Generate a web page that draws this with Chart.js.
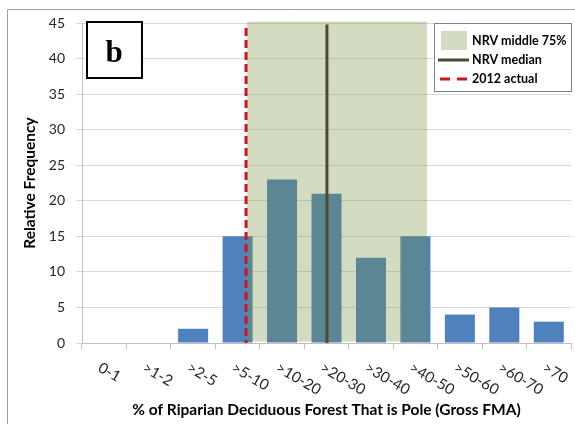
<!DOCTYPE html>
<html>
<head>
<meta charset="utf-8">
<script src="https://cdn.jsdelivr.net/npm/chart.js@4"></script>
<style>
  html, body { margin: 0; padding: 0; background: #fff; }
  canvas { display: block; }
</style>
</head>
<body>
<canvas id="chart" width="575" height="424"></canvas>
<script>
// ─── DATA ─────────────────────────────────────────────────────────────
const categories = ['0-1', '>1-2', '>2-5', '>5-10', '>10-20', '>20-30', '>30-40', '>40-50', '>50-60', '>60-70', '>70'];
const frequency = [0, 0, 2, 15, 23, 21, 12, 15, 4, 5, 3];
const yTicks = [0, 5, 10, 15, 20, 25, 30, 35, 40, 45];

// reference marks, x in category-index units (3 = centre of ">5-10"), y in frequency
const nrvMiddleX = [3.21, 7.26];
const nrvMiddleY = [0.2, 45.2];
const nrvMedianX = [5.01];
const nrvMedianY = [0, 44.8];
const actual2012X = [3.19];
const actual2012Y = [0, 44.3];

const legendLabels = ['NRV middle 75%', 'NRV median', '2012 actual'];
const panelLabel = 'b';
const xTitle = '% of Riparian Deciduous Forest That is Pole (Gross FMA)';
const yTitle = 'Relative Frequency';

const FONT = 'Lato, "Open Sans", sans-serif';
const SHADE = 'rgba(118,146,60,0.32)';
const MEDIAN = '#4E4830';
const RED = '#CC1424';

// ─── PLUGINS ──────────────────────────────────────────────────────────
const overlay = {
  id: 'overlay',
  afterDatasetsDraw(chart) {
    const { ctx, scales: { x, y } } = chart;
    ctx.save();
    // NRV middle 75%
    const x0 = x.getPixelForValue(nrvMiddleX[0]), x1 = x.getPixelForValue(nrvMiddleX[1]);
    const y0 = y.getPixelForValue(nrvMiddleY[0]), y1 = y.getPixelForValue(nrvMiddleY[1]);
    ctx.fillStyle = SHADE;
    ctx.fillRect(x0, y1, x1 - x0, y0 - y1);
    // NRV median
    ctx.strokeStyle = MEDIAN;
    ctx.lineWidth = 3;
    ctx.beginPath();
    const mx = x.getPixelForValue(nrvMedianX[0]);
    ctx.moveTo(mx, y.getPixelForValue(nrvMedianY[1]));
    ctx.lineTo(mx, y.getPixelForValue(nrvMedianY[0]));
    ctx.stroke();
    // 2012 actual
    ctx.strokeStyle = RED;
    ctx.setLineDash([8, 4]);
    ctx.beginPath();
    const ax = x.getPixelForValue(actual2012X[0]);
    ctx.moveTo(ax, y.getPixelForValue(actual2012Y[1]));
    ctx.lineTo(ax, y.getPixelForValue(actual2012Y[0]));
    ctx.stroke();
    ctx.restore();
  },
  afterDraw(chart) {
    const { ctx, chartArea: area, scales: { x } } = chart;
    ctx.save();

    // rotated category labels (reading down to the right)
    ctx.font = '15px ' + FONT;
    ctx.fillStyle = '#262626';
    ctx.textAlign = 'left';
    ctx.textBaseline = 'top';
    categories.forEach((c, i) => {
      ctx.save();
      ctx.translate(x.getPixelForValue(i) - 1, area.bottom + 17);
      ctx.rotate(Math.PI / 6);
      ctx.fillText(c, 0, 0);
      ctx.restore();
    });

    // legend
    ctx.fillStyle = '#fff';
    ctx.fillRect(434, 23, 138, 69);
    ctx.strokeStyle = '#808080';
    ctx.lineWidth = 1;
    ctx.strokeRect(434.5, 23.5, 137, 68);
    ctx.fillStyle = SHADE;
    ctx.fillRect(441, 31, 26, 19);
    ctx.strokeStyle = MEDIAN;
    ctx.lineWidth = 3;
    ctx.beginPath(); ctx.moveTo(438, 60); ctx.lineTo(469, 60); ctx.stroke();
    ctx.strokeStyle = RED;
    ctx.setLineDash([10, 7]);
    ctx.beginPath(); ctx.moveTo(440, 79); ctx.lineTo(469, 79); ctx.stroke();
    ctx.setLineDash([]);
    ctx.fillStyle = '#000';
    ctx.font = 'bold 12.5px ' + FONT;
    ctx.textBaseline = 'middle';
    [41, 60, 79].forEach((ly, i) => ctx.fillText(legendLabels[i], 472, ly));

    // panel label
    ctx.fillStyle = '#fff';
    ctx.fillRect(86, 21, 57, 58);
    ctx.strokeStyle = '#000';
    ctx.lineWidth = 2;
    ctx.strokeRect(87, 22, 55, 56);
    ctx.fillStyle = '#000';
    ctx.font = 'bold 31px "Liberation Serif", "Times New Roman", serif';
    ctx.textAlign = 'center';
    ctx.textBaseline = 'alphabetic';
    ctx.fillText(panelLabel, 114, 62);

    // outer frame (top and left edges)
    ctx.strokeStyle = '#A0A0A0';
    ctx.lineWidth = 1;
    ctx.beginPath();
    ctx.moveTo(7.5, 424); ctx.lineTo(7.5, 9.5); ctx.lineTo(575, 9.5);
    ctx.stroke();
    ctx.restore();
  }
};

// ─── CHART ────────────────────────────────────────────────────────────
new Chart(document.getElementById('chart'), {
  type: 'bar',
  data: {
    labels: categories,
    datasets: [{
      data: frequency,
      backgroundColor: '#4F81BD',
      barPercentage: 0.675,
      categoryPercentage: 1,
    }],
  },
  options: {
    responsive: false,
    animation: false,
    layout: { padding: { top: 23, right: 4, left: 0, bottom: 0 } },
    plugins: { legend: { display: false }, tooltip: { enabled: false } },
    scales: {
      x: {
        grid: { display: true, drawOnChartArea: false, offset: true, tickLength: 6, color: '#BFBFBF' },
        border: { color: '#BFBFBF' },
        ticks: { display: false },
        title: { display: true, text: xTitle, color: '#000', font: { family: FONT, size: 15.5, weight: 'bold' }, padding: { top: 0, bottom: 5 } },
        afterFit: s => { s.height = 81; },
      },
      y: {
        min: 0,
        max: 45,
        afterBuildTicks: s => { s.ticks = yTicks.map(v => ({ value: v })); },
        ticks: { color: '#262626', padding: 11, font: { family: FONT, size: 14 } },
        grid: { color: '#D9D9D9', tickLength: 6 },
        border: { color: '#BFBFBF' },
        title: { display: true, text: yTitle, color: '#000', font: { family: FONT, size: 15.5, weight: 'bold' }, padding: { top: 20.5 } },
        afterFit: s => { s.width = 82; },
      },
    },
  },
  plugins: [overlay],
});
</script>
</body>
</html>
